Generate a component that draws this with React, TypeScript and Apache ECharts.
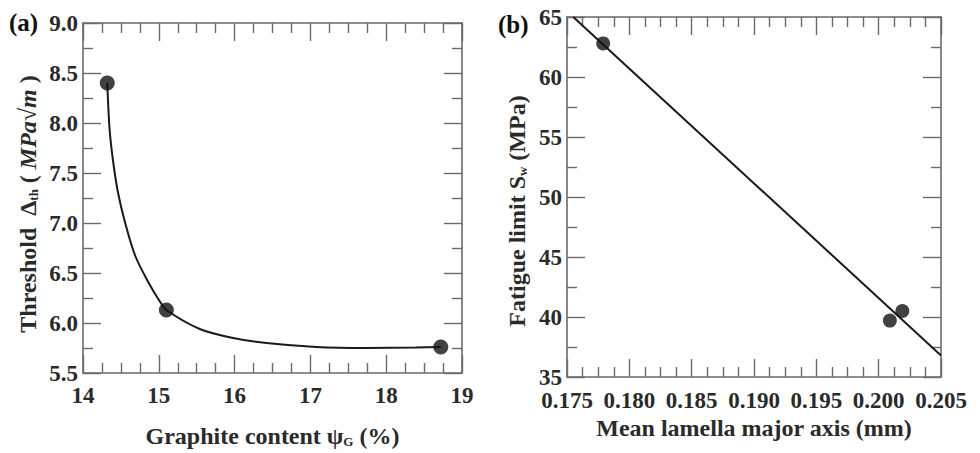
import React, { useEffect, useRef } from "react";
import * as echarts from "echarts";

// Panel (a): measured points
const graphiteX = [14.32, 15.1, 18.72];
const thresholdY = [8.4, 6.13, 5.76];
// Panel (a): fitted curve
const curveX = [14.32, 14.35, 14.395, 14.46, 14.56, 14.69, 14.86, 15.01, 15.1, 15.54, 15.98, 16.42, 17.08, 17.73, 18.39, 18.72];
const curveY = [8.4, 7.945, 7.63, 7.31, 6.99, 6.67, 6.41, 6.22, 6.13, 5.94, 5.85, 5.8, 5.76, 5.75, 5.755, 5.76];
// Panel (b): measured points
const lamellaX = [0.1779, 0.2009, 0.2019];
const fatigueY = [62.8, 39.7, 40.5];
// Panel (b): fitted straight line
const fitX = [0.1755, 0.205];
const fitY = [65, 36.8];

const xTicksA = [14, 19, 1];
const yTicksA = [5.5, 9.0, 0.5];
const xTicksB = [0.175, 0.205, 0.005];
const yTicksB = [35, 65, 5];

const FONT = "Liberation Serif";
const AX = "#6a6a6a";
const TXT = "#2a2a2a";

function axisBase(gridIndex: number, min: number, max: number, interval: number, pos: string, minorSplit: number, showLabel: boolean, fmt: (v: number) => string, margin: number, labelPad: number[] = [0, 0, 0, 0]) {
  return {
    type: "value",
    gridIndex,
    position: pos,
    min,
    max,
    interval,
    axisLine: { show: true, onZero: false, lineStyle: { color: AX, width: 1.6 } },
    axisTick: { show: true, inside: true, length: 18, lineStyle: { color: AX, width: 1.4 } },
    minorTick: { show: true, splitNumber: minorSplit, length: 10, lineStyle: { color: AX, width: 1.4 } },
    splitLine: { show: false },
    minorSplitLine: { show: false },
    axisLabel: {
      show: showLabel,
      margin,
      fontFamily: FONT,
      fontWeight: "bold",
      fontSize: 23,
      lineHeight: 20,
      padding: labelPad,
      color: TXT,
      formatter: fmt,
      showMinLabel: true,
      showMaxLabel: true,
    },
  };
}

export default function App() {
  const ref = useRef<HTMLDivElement>(null);
  useEffect(() => {
    if (!ref.current) return;
    const chart = echarts.init(ref.current, null, { renderer: "svg" });
    const fA1 = (v: number) => String(Math.round(v));
    const fA2 = (v: number) => v.toFixed(1);
    const fB1 = (v: number) => v.toFixed(3);
    const fB2 = (v: number) => String(Math.round(v));
    const NS = 24;
    const nameStyle = (padding: number[]) => ({
      fontFamily: FONT,
      fontWeight: "bold",
      fontSize: NS,
      color: TXT,
      padding,
      rich: {
        sub: { fontFamily: FONT, fontSize: 13, fontWeight: "bold", color: TXT, verticalAlign: "bottom", padding: [9, 0, 0, 0] },
        it: { fontFamily: FONT, fontSize: NS, fontStyle: "italic", color: TXT },
        n: { fontFamily: FONT, fontSize: NS, fontWeight: "bold", color: TXT },
      },
    });

    const xa0: any = axisBase(0, xTicksA[0], xTicksA[1], xTicksA[2], "bottom", 4, true, fA1, 12);
    xa0.name = "{n|Graphite content ψ}{sub|G}{n| (%)}";
    xa0.nameLocation = "middle";
    xa0.nameGap = 51;
    xa0.nameTextStyle = nameStyle([0, 0, 0, 0]);
    const xa1: any = axisBase(0, xTicksA[0], xTicksA[1], xTicksA[2], "top", 4, false, fA1, 8);
    const ya0: any = axisBase(0, yTicksA[0], yTicksA[1], yTicksA[2], "left", 2, true, fA2, 5);
    ya0.name = "{n|Threshold  Δ}{sub|th}{n| ( }{it|MPa√m}{n| )}";
    ya0.nameLocation = "middle";
    ya0.nameGap = 43;
    ya0.nameRotate = 90;
    ya0.nameTextStyle = nameStyle([0, 12, 0, 0]);
    const ya1: any = axisBase(0, yTicksA[0], yTicksA[1], yTicksA[2], "right", 2, false, fA2, 8);

    const xb0: any = axisBase(1, xTicksB[0], xTicksB[1], xTicksB[2], "bottom", 4, true, fB1, 13);
    xb0.name = "{n|Mean lamella major axis (mm)}";
    xb0.nameLocation = "middle";
    xb0.nameGap = 35;
    xb0.nameTextStyle = nameStyle([0, 0, 0, 0]);
    const xb1: any = axisBase(1, xTicksB[0], xTicksB[1], xTicksB[2], "top", 4, false, fB1, 8);
    const yb0: any = axisBase(1, yTicksB[0], yTicksB[1], yTicksB[2], "left", 2, true, fB2, 5, [0, 0, 4, 0]);
    yb0.name = "{n|Fatigue limit S}{sub|w}{n| (MPa)}";
    yb0.nameLocation = "middle";
    yb0.nameGap = 38;
    yb0.nameRotate = 90;
    yb0.nameTextStyle = nameStyle([0, 28, 0, 0]);
    const yb1: any = axisBase(1, yTicksB[0], yTicksB[1], yTicksB[2], "right", 2, false, fB2, 8);

    chart.setOption({
      animation: false,
      backgroundColor: "#ffffff",
      grid: [
        { left: 83, top: 23, width: 379, height: 366 },
        { left: 567, top: 17, width: 374, height: 360 },
      ],
      xAxis: [xa0, xa1, xb0, xb1],
      yAxis: [ya0, ya1, yb0, yb1],
      graphic: [
        { type: "text", left: 9, top: 10, style: { text: "(a)", fontFamily: FONT, fontWeight: "bold", fontSize: 25, fill: "#111" } },
        { type: "text", left: 498, top: 12, style: { text: "(b)", fontFamily: FONT, fontWeight: "bold", fontSize: 25, fill: "#111" } },
      ],
      series: [
        {
          type: "line",
          xAxisIndex: 0,
          yAxisIndex: 0,
          data: curveX.map((x, i) => [x, curveY[i]]),
          smooth: 0.3,
          showSymbol: false,
          lineStyle: { color: "#1a1a1a", width: 2 },
          z: 2,
        },
        {
          type: "scatter",
          xAxisIndex: 0,
          yAxisIndex: 0,
          data: graphiteX.map((x, i) => [x, thresholdY[i]]),
          symbolSize: 15,
          itemStyle: { color: "#111" },
          z: 3,
        },
        {
          type: "line",
          xAxisIndex: 2,
          yAxisIndex: 2,
          data: fitX.map((x, i) => [x, fitY[i]]),
          showSymbol: false,
          lineStyle: { color: "#1a1a1a", width: 2 },
          z: 2,
        },
        {
          type: "scatter",
          xAxisIndex: 2,
          yAxisIndex: 2,
          data: lamellaX.map((x, i) => [x, fatigueY[i]]),
          symbolSize: 14,
          itemStyle: { color: "#111" },
          z: 3,
        },
      ],
    });
    return () => chart.dispose();
  }, []);
  return <div ref={ref} style={{ position: "fixed", left: 0, top: 0, width: 980, height: 453 }} />;
}
